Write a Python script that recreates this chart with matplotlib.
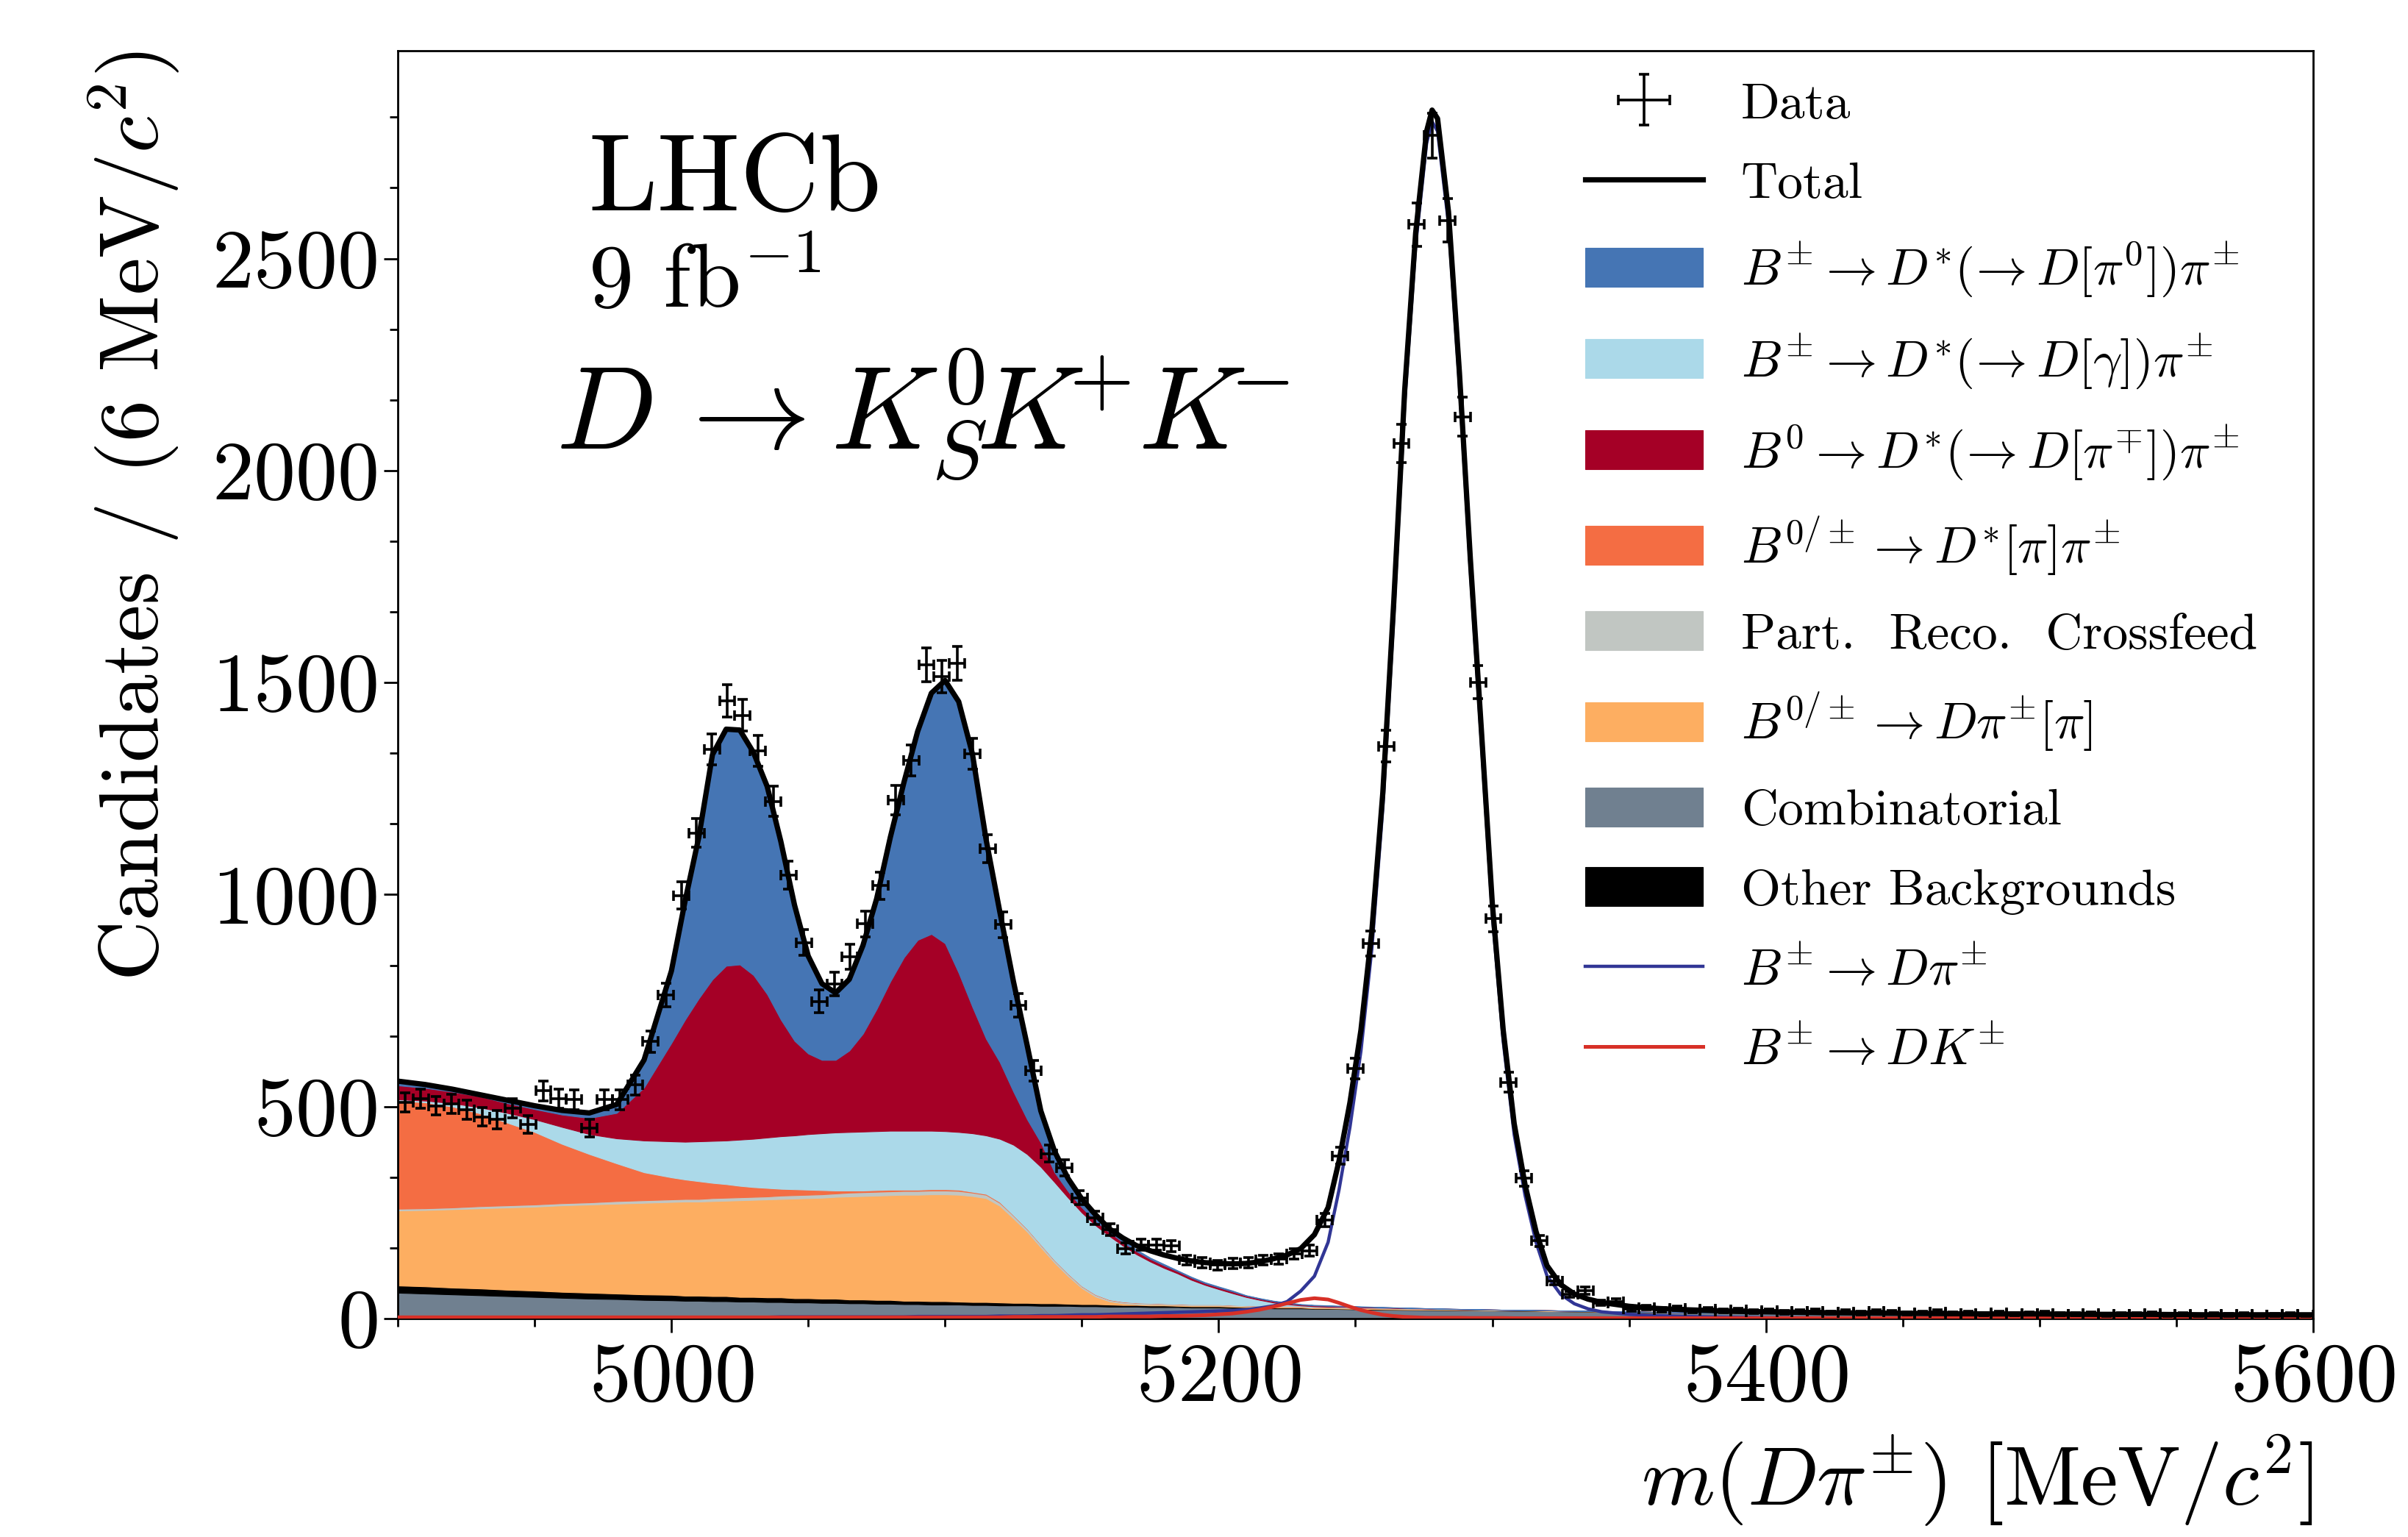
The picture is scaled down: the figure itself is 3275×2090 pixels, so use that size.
import numpy as np
import matplotlib
matplotlib.use("Agg")
import matplotlib.pyplot as plt
from matplotlib.ticker import MultipleLocator, AutoMinorLocator

plt.rcParams['font.family'] = 'serif'
plt.rcParams['font.serif'] = ['cmr10']
plt.rcParams['mathtext.fontset'] = 'cm'
plt.rcParams['axes.formatter.use_mathtext'] = True
plt.rcParams['axes.unicode_minus'] = False

# ---------------- data (binned) ----------------
bin_lo = 4900.0
bin_width = 5.6
data_counts = [510, 519, 502, 507, 493, 476, 470, 496, 458, 537,
               519, 516, 449, 516, 516, 551, 653, 763, 998, 1145,
               1343, 1456, 1423, 1339, 1220, 1046, 887, 748, 789, 853,
               931, 1021, 1223, 1316, 1542, 1514, 1545, 1332, 1108, 929,
               739, 584, 389, 356, 285, 237, 210, 165, 174, 174,
               171, 138, 132, 126, 130, 132, 138, 141, 152, 160,
               232, 384, 589, 885, 1350, 2064, 2580, 2790, 2590, 2127,
               1501, 943, 557, 331, 183, 89, 57, 66, 37, 40,
               23,
               26, 21, 24, 19, 22, 18, 20, 16, 19, 15,
               17, 18, 14, 16, 13, 17, 15, 12, 14, 16,
               12, 13, 11, 14, 10, 12, 13, 10, 11, 12,
               9, 11, 10, 12, 9, 10, 8, 11, 9, 10,
               8, 9, 10, 8]

# ---------------- stacked background components ----------------
xb = [4900, 4910, 4920, 4930, 4940, 4950, 4960, 4970, 4980, 4990, 5000,
      5005, 5010, 5015, 5020, 5025, 5030, 5035, 5040, 5045, 5050,
      5055, 5060, 5065, 5070, 5075, 5080, 5085, 5090, 5095, 5100,
      5105, 5110, 5115, 5120, 5125, 5130, 5135, 5140, 5145, 5150,
      5155, 5160, 5165, 5170, 5175, 5180, 5185, 5190, 5195, 5200,
      5205, 5210, 5215, 5220, 5225, 5230, 5235, 5240,
      5250, 5260, 5280, 5300, 5330, 5360, 5400, 5450, 5500, 5550, 5600]

combinatorial = [61, 59, 57, 55, 53, 51, 49, 47, 46, 44, 43,
                 42, 42, 41, 41, 40, 40, 39, 39, 38, 38,
                 37, 37, 36, 36, 35, 35, 34, 34, 33, 33,
                 33, 32, 32, 31, 31, 31, 30, 30, 30, 29,
                 29, 28, 28, 28, 27, 27, 27, 26, 26, 26,
                 25, 25, 25, 24, 24, 24, 23, 23,
                 22, 21, 20, 19, 17, 15, 13, 11, 10, 9, 8]
other_bkg = [17, 17, 16, 16, 15, 15, 14, 14, 13, 13, 13,
             12, 12, 12, 12, 11, 11, 11, 11, 10, 10,
             10, 10, 9, 9, 9, 9, 8, 8, 8, 8,
             7, 7, 7, 7, 6, 6, 6, 6, 5, 5,
             5, 5, 4, 4, 4, 4, 3, 3, 3, 3,
             3, 2, 2, 2, 2, 2, 1, 1,
             1, 1, 0.5, 0.5, 0, 0, 0, 0, 0, 0, 0]
dpi_missing_pi = [177, 180, 185, 189, 194, 198, 204, 208, 212, 216, 219,
                  222, 222, 224, 225, 228, 229, 231, 232, 235, 236,
                  238, 240, 243, 244, 246, 247, 250, 250, 252, 252,
                  252, 250, 245, 228, 199, 168, 132, 96, 65, 38,
                  18, 8, 4, 2, 2, 2, 2, 2, 2, 2,
                  2, 2, 2, 2, 2, 2, 2, 2,
                  2, 2, 1.5, 1, 1, 0.5, 0.5, 0, 0, 0, 0]
crossfeed = [4, 4, 4, 5, 5, 5, 5, 5, 6, 6, 6,
             6, 6, 7, 7, 7, 7, 7, 8, 8, 8,
             8, 8, 9, 9, 9, 9, 9, 9, 9, 9,
             9, 8, 8, 7, 7, 6, 6, 5, 5, 4,
             4, 3, 3, 3, 3, 2, 2, 2, 2, 2,
             2, 2, 1, 1, 1, 1, 1, 1,
             1, 1, 1, 0.5, 0.5, 0, 0, 0, 0, 0, 0]
dstar_missing_pi = [255, 250, 238, 219, 195, 171, 140, 114, 89, 66, 52,
                    46, 42, 36, 32, 27, 23, 20, 16, 14, 12,
                    10, 7, 5, 4, 4, 4, 3, 3, 3, 3,
                    3, 2, 2, 2, 1, 1, 1, 1, 1, 1,
                    1, 1, 1, 0.5, 0.5, 0.5, 0.5, 0.5, 0.5, 0.5,
                    0, 0, 0, 0, 0, 0, 0, 0,
                    0, 0, 0, 0, 0, 0, 0, 0, 0, 0, 0]
dstar_gamma = [3, 4, 8, 14, 23, 30, 40, 47, 59, 75, 85,
               89, 94, 99, 103, 109, 114, 119, 124, 127, 131,
               134, 137, 138, 139, 139, 139, 139, 139, 138, 137,
               136, 138, 138, 149, 166, 176, 183, 184, 179, 173,
               163, 150, 132, 114, 98, 84, 72, 58, 46, 36,
               28, 20, 14, 9, 5, 2, 2, 1,
               1, 0.5, 0, 0, 0, 0, 0, 0, 0, 0, 0]
b0_dstar_pi = [33, 30, 27, 26, 23, 24, 29, 38, 60, 125, 232,
               288, 337, 381, 412, 413, 386, 338, 275, 223, 190,
               173, 171, 192, 231, 288, 352, 409, 450, 464, 443,
               375, 298, 228, 181, 125, 82, 57, 23, 15, 12,
               10, 9, 8, 7, 6, 6, 5, 5, 4, 4,
               4, 3, 3, 3, 3, 2, 2, 2,
               1, 1, 0.5, 0, 0, 0, 0, 0, 0, 0, 0]
dstar_pi0 = [10, 8, 6, 4, 7, 8, 10, 12, 20, 65, 170,
             280, 380, 530, 558, 553, 525, 490, 420, 320, 230,
             180, 158, 168, 208, 260, 340, 413, 492, 568, 620,
             640, 597, 470, 355, 260, 175, 75, 50, 30, 20,
             15, 8, 6, 4, 3, 3, 2, 2, 2, 2,
             2, 1, 1, 1, 1, 1, 1, 1,
             1, 0.5, 0, 0, 0, 0, 0, 0, 0, 0, 0]

# ---------------- curves: total and signals ----------------
xs = [4900, 4910, 4920, 4930, 4940, 4950, 4960, 4970, 4980, 4990, 5000,
      5005, 5010, 5015, 5020, 5025, 5030, 5035, 5040, 5045, 5050,
      5055, 5060, 5065, 5070, 5075, 5080, 5085, 5090, 5095, 5100,
      5105, 5110, 5115, 5120, 5125, 5130, 5135, 5140, 5145, 5150,
      5155, 5160, 5165, 5170, 5175, 5180, 5185, 5190, 5195, 5200,
      5205, 5210, 5215, 5220, 5225, 5230, 5235, 5240,
      5244, 5248, 5252, 5256, 5260, 5264, 5268, 5272, 5276, 5278,
      5280, 5284, 5288, 5292, 5296, 5300, 5304, 5308, 5312, 5316, 5320,
      5325, 5330, 5335, 5340,
      5350, 5360, 5370, 5380, 5390, 5400,
      5420, 5440, 5460, 5480, 5500, 5520, 5540, 5560, 5580, 5600]
total_fit = [560, 552, 541, 528, 515, 502, 491, 485, 505, 610, 820,
             985, 1135, 1330, 1390, 1388, 1335, 1255, 1125, 975, 855,
             790, 768, 800, 880, 990, 1135, 1265, 1385, 1475, 1505,
             1455, 1332, 1130, 960, 795, 645, 490, 395, 330, 282,
             245, 212, 190, 172, 160, 150, 142, 136, 132, 130,
             129, 130, 134, 141, 150, 165, 198, 262,
             372, 510, 680, 915, 1240, 1690, 2190, 2560, 2800, 2850,
             2830, 2610, 2230, 1790, 1390, 980, 680, 460, 315, 205, 125,
             80, 58, 46, 38,
             29, 24, 21, 19, 17, 16,
             14, 13, 12, 11, 11, 10, 10, 9, 9, 9]
b_to_dpi = [3, 3, 3, 3, 3, 3, 3, 3, 3, 3, 3,
            3, 3, 3, 3, 3, 3, 3, 4, 4, 4,
            4, 4, 4, 4, 4, 4, 4, 5, 5, 5,
            5, 5, 5, 6, 6, 6, 7, 7, 8, 9,
            9, 10, 11, 12, 13, 14, 15, 16, 17, 18,
            19, 21, 25, 30, 40, 65, 100, 180,
            304, 452, 631, 873, 1204, 1657, 2160, 2531, 2772, 2823,
            2800, 2582, 2202, 1762, 1362, 953, 654, 434, 290, 180, 101,
            57, 35, 23, 16,
            10, 7, 5, 4, 3, 2,
            1.5, 1, 1, 0.5, 0.5, 0.5, 0.3, 0.3, 0.2, 0.2]
b_to_dk = [3, 3, 3, 3, 3, 3, 3, 3, 3, 3, 3,
           3, 3, 3, 3, 3, 3, 3, 3, 3, 3,
           3, 3, 3, 3, 3, 3, 3, 3, 3, 3,
           3, 3, 3, 3, 4, 4, 4, 4, 4, 4,
           4, 5, 5, 5, 5, 6, 6, 7, 8, 10,
           12, 16, 21, 28, 36, 44, 48, 45,
           37, 28, 20, 14, 9, 6, 4, 3, 2, 2,
           2, 2, 2, 1.5, 1.5, 1.5, 1.5, 1, 1, 1, 1,
           1, 1, 1, 1,
           1, 1, 1, 1, 1, 1,
           1, 1, 1, 1, 1, 1, 1, 1, 1, 1]

labels = ['Data', 'Total',
          r'$B^{\pm} \rightarrow D^{*}(\!\rightarrow D[\pi^{0}])\pi^{\pm}$',
          r'$B^{\pm} \rightarrow D^{*}(\!\rightarrow D[\gamma])\pi^{\pm}$',
          r'$B^{0} \rightarrow D^{*}(\!\rightarrow D[\pi^{\mp}])\pi^{\pm}$',
          r'$B^{0/\pm} \rightarrow D^{*}[\pi]\pi^{\pm}$',
          'Part.  Reco.  Crossfeed',
          r'$B^{0/\pm} \rightarrow D\pi^{\pm}[\pi]$',
          'Combinatorial',
          'Other Backgrounds',
          r'$B^{\pm} \rightarrow D\pi^{\pm}$',
          r'$B^{\pm} \rightarrow DK^{\pm}$']

col_comb = '#708090'
col_other = '#000000'
col_dpp = '#fdae61'
col_cross = '#c1c6c2'
col_dsp = '#f46d43'
col_lb = '#abd9e9'
col_red = '#a50026'
col_blue = '#4575b4'
col_dpi = '#313695'
col_dk = '#d73027'

# ---------------- figure ----------------
fig = plt.figure(figsize=(16.375, 10.45), dpi=200)
ax = fig.add_axes([0.1652, 0.1421, 0.7954, 0.8249])

polys = ax.stackplot(xb, combinatorial, other_bkg, dpi_missing_pi, crossfeed,
                     dstar_missing_pi, dstar_gamma, b0_dstar_pi, dstar_pi0,
                     colors=[col_comb, col_other, col_dpp, col_cross, col_dsp,
                             col_lb, col_red, col_blue],
                     edgecolor='face', linewidth=0.4, zorder=1)
p_comb, p_other, p_dpp, p_cross, p_dsp, p_lb, p_red, p_blue = polys

l_dpi, = ax.plot(xs, b_to_dpi, color=col_dpi, lw=1.6, zorder=3)
l_dk, = ax.plot(xs, b_to_dk, color=col_dk, lw=1.8, zorder=3)
l_tot, = ax.plot(xs, total_fit, color='k', lw=2.6, zorder=4)

counts = np.array(data_counts, dtype=float)
centres = bin_lo + bin_width * (np.arange(len(counts)) + 0.5)
eb = ax.errorbar(centres, counts, xerr=bin_width / 2, yerr=np.sqrt(counts),
                 fmt='none', ecolor='k', elinewidth=1.3, capsize=2.6,
                 capthick=1.3, zorder=5)

ax.set_xlim(4900, 5600)
ax.set_ylim(0, 2990)
ax.xaxis.set_major_locator(MultipleLocator(200))
ax.xaxis.set_minor_locator(MultipleLocator(50))
ax.yaxis.set_major_locator(MultipleLocator(500))
ax.yaxis.set_minor_locator(AutoMinorLocator(3))
ax.tick_params(axis='both', which='major', labelsize=41, length=7, width=1.0,
               direction='out')
ax.tick_params(axis='both', which='minor', length=4, width=1.0, direction='out')
ax.tick_params(axis='x', which='major', pad=5)
ax.tick_params(axis='y', which='major', pad=3)
for s in ax.spines.values():
    s.set_linewidth(1.0)

ax.set_ylabel(r'Candidates / (6 MeV/$c^2$)', fontsize=41, loc='top')
ax.yaxis.set_label_coords(-0.113, 1.0)
ax.set_xlabel(r'$m(D\pi^{\pm})$ [MeV/$c^2$]', fontsize=41, loc='right')
ax.xaxis.set_label_coords(1.0, -0.09)

ax.text(0.0994, 0.874, 'LHCb', transform=ax.transAxes, fontsize=54,
        va='baseline', ha='left')
ax.text(0.0994, 0.7976, r'9 fb$^{-1}$', transform=ax.transAxes, fontsize=44,
        va='baseline', ha='left')
ax.text(0.0825, 0.686, r'$D\,\rightarrow K^{0}_{S}\!K^{\!\!\!+}\!K^{\!\!\!-}$',
        transform=ax.transAxes, fontsize=58, va='baseline', ha='left')

handles = [eb, l_tot, p_blue, p_lb, p_red, p_dsp, p_cross, p_dpp, p_comb,
           p_other, l_dpi, l_dk]
leg = ax.legend(handles, labels, loc='upper left', bbox_to_anchor=(0.62, 0.976),
                frameon=False, fontsize=25, handlelength=2.3, handleheight=0.8,
                handletextpad=0.75, labelspacing=0.64, borderpad=0,
                borderaxespad=0)

fig.savefig('out.png', dpi=200)
